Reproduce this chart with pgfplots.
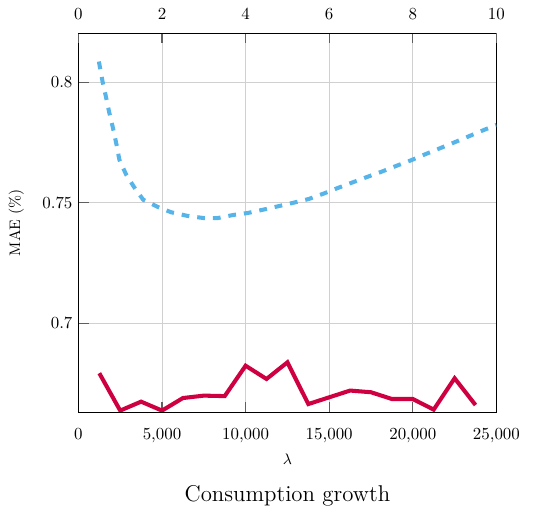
\documentclass[border=0pt]{standalone}
\usepackage{pgfplots}
\pgfplotsset{compat=1.18}

\definecolor{crimson}{RGB}{206,0,66}
\definecolor{skyblue}{RGB}{86,180,233}
\definecolor{gridgray}{RGB}{208,208,208}
\definecolor{tickgray}{RGB}{95,95,95}

% MAE against lambda (bottom scale)
\pgfplotstableread{
x      mae
1250   0.6793
2500   0.6638
3750   0.6675
5000   0.6638
6250   0.6690
7500   0.6700
8750   0.6698
10000  0.6824
11250  0.6769
12500  0.6838
13750  0.6665
15000  0.6693
16250  0.6721
17500  0.6714
18750  0.6686
20000  0.6686
21250  0.6642
22500  0.6772
23750  0.6661
}\lambdadata

% MAE against the top scale
\pgfplotstableread{
x      mae
0.49   0.8085
0.58   0.8000
0.66   0.7938
0.74   0.7872
0.83   0.7807
0.91   0.7742
0.98   0.7678
1.14   0.7617
1.33   0.7565
1.55   0.7512
1.90   0.7482
2.22   0.7460
2.61   0.7445
3.00   0.7436
3.33   0.7436
3.71   0.7449
4.05   0.7457
4.40   0.7470
4.78   0.7485
5.13   0.7499
5.51   0.7515
5.86   0.7537
6.21   0.7561
6.56   0.7584
6.90   0.7606
7.25   0.7628
7.60   0.7652
7.95   0.7675
8.29   0.7700
8.63   0.7724
8.97   0.7748
9.30   0.7772
9.64   0.7797
10.00  0.7822
}\topdata

\begin{document}
\begin{tikzpicture}
\pgfplotsset{
  common/.style={
    scale only axis, width=247.4pt, height=224.3pt,
    at={(0,0)}, anchor=south west,
    ymin=0.6631, ymax=0.8202,
    tick align=inside, major tick length=6pt,
    every tick/.style={tickgray, line width=0.6pt},
    axis line style={line width=0.6pt},
    /pgf/number format/assume math mode=true,
    tick label style={font=\normalsize},
  }
}
\begin{axis}[common, name=main,
  xmin=0, xmax=25000, xtick={0,5000,10000,15000,20000,25000},
  scaled x ticks=false,
  xtick pos=bottom, ytick pos=left,
  ytick={0.7,0.75,0.8},
  yticklabels={0.7,0.75,0.8},
  xticklabel style={yshift=-6.2pt},
  grid=major, grid style={gridgray, line width=0.5pt},
]
\addplot[crimson, line width=2.4pt, line join=miter] table[x=x, y=mae] {\lambdadata};
\end{axis}

\begin{axis}[common,
  xmin=0, xmax=10, xtick={0,2,4,6,8,10},
  hide y axis,
  xtick pos=top, xticklabel pos=top,
  xticklabel style={yshift=4.5pt},
]
\addplot[skyblue, line width=2.4pt, dash pattern=on 4.6pt off 4.7pt] table[x=x, y=mae] {\topdata};
\end{axis}

\node[font=\small, rotate=90] at ([xshift=-36.7pt]main.west) {MAE (\%)};
\node[font=\small] at ([yshift=-27.6pt]main.south) {$\lambda$};
\node[anchor=base, font=\fontsize{13.5}{16}\selectfont] at ([yshift=-52.9pt]main.south) {Consumption growth};

\pgfresetboundingbox
\path[use as bounding box] ([shift={(-46.4pt,-56pt)}]main.south west) rectangle ([shift={(25.2pt,19.7pt)}]main.north east);
\end{tikzpicture}
\end{document}
